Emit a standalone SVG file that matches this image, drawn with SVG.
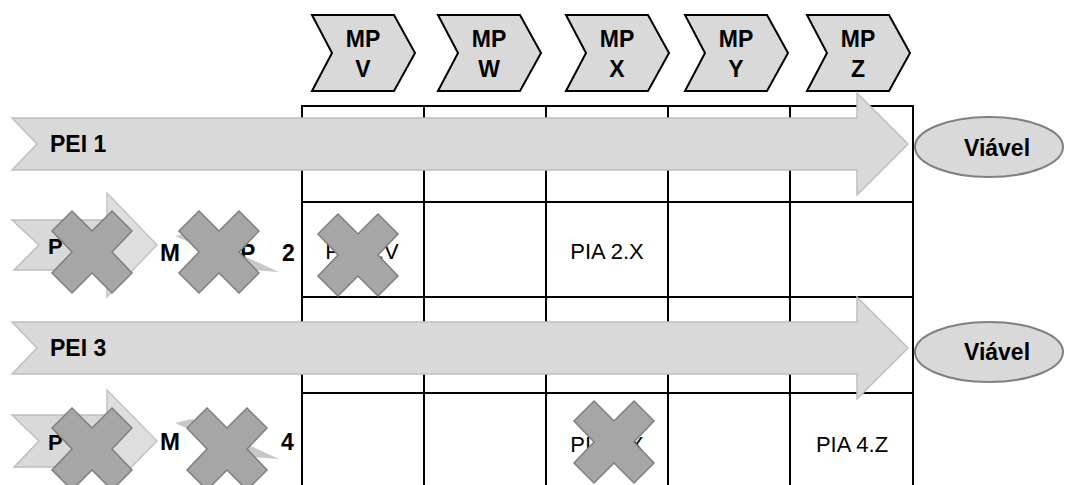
<svg xmlns="http://www.w3.org/2000/svg" xmlns:xlink="http://www.w3.org/1999/xlink" width="1066" height="485" viewBox="0 0 1066 485">
  <style>
    .bg { fill: #ffffff; }
    .grid line { stroke: #000000; stroke-width: 2; }
    .chev { fill: #d9d9d9; stroke: #000000; stroke-width: 2; stroke-linejoin: miter; }
    .blk { fill: #d9d9d9; stroke: #bfbfbf; stroke-width: 1.5; }
    .head { fill: #dedede; stroke: #c4c4c4; stroke-width: 1.5; }
    .shard { fill: #c8c8c8; stroke: none; }
    .ell { fill: #d9d9d9; stroke: #808080; stroke-width: 2; }
    .xmark { fill: #a6a6a6; stroke: #7f7f7f; stroke-width: 1.5; stroke-linejoin: miter; }
    .b { font-family: "Liberation Sans", Arial, sans-serif; font-weight: bold; font-size: 23px; fill: #000000; }
    .r { font-family: "Liberation Sans", Arial, sans-serif; font-size: 22px; fill: #000000; }
    .mid { text-anchor: middle; }
  </style>
  <defs>
    <path id="chevShape" d="M0,0 L82,0 L103,38 L82,76 L0,76 L20,38 Z"/>
    <path id="xShape" d="M-40,-21 L-20,-41 L0,-21 L20,-41 L40,-21 L20,0 L40,21 L20,41 L0,21 L-20,41 L-40,21 L-20,0 Z"/>
  </defs>
  <rect class="bg" x="0" y="0" width="1066" height="485"/>

  <g id="grid" class="grid">
    <line x1="302" y1="106" x2="302" y2="490"/>
    <line x1="424" y1="106" x2="424" y2="490"/>
    <line x1="546" y1="106" x2="546" y2="490"/>
    <line x1="668" y1="106" x2="668" y2="490"/>
    <line x1="790" y1="106" x2="790" y2="490"/>
    <line x1="913" y1="106" x2="913" y2="490"/>
    <line x1="301" y1="106" x2="914" y2="106"/>
    <line x1="301" y1="202" x2="914" y2="202"/>
    <line x1="301" y1="297" x2="914" y2="297"/>
    <line x1="301" y1="393" x2="914" y2="393"/>
  </g>

  <g id="cells">
    <text class="r mid" x="362" y="259">PIA 2.V</text>
    <text class="r mid" x="607" y="259">PIA 2.X</text>
    <text class="r mid" x="607" y="452">PIA 4.X</text>
    <text class="r mid" x="852" y="452">PIA 4.Z</text>
  </g>

  <g id="mp-v"><use xlink:href="#chevShape" href="#chevShape" x="312" y="15" class="chev"/><text class="b mid" x="363" y="47">MP</text><text class="b mid" x="363" y="77">V</text></g>
  <g id="mp-w"><use xlink:href="#chevShape" href="#chevShape" x="438" y="15" class="chev"/><text class="b mid" x="489" y="47">MP</text><text class="b mid" x="489" y="77">W</text></g>
  <g id="mp-x"><use xlink:href="#chevShape" href="#chevShape" x="566" y="15" class="chev"/><text class="b mid" x="617" y="47">MP</text><text class="b mid" x="617" y="77">X</text></g>
  <g id="mp-y"><use xlink:href="#chevShape" href="#chevShape" x="685" y="15" class="chev"/><text class="b mid" x="736" y="47">MP</text><text class="b mid" x="736" y="77">Y</text></g>
  <g id="mp-z"><use xlink:href="#chevShape" href="#chevShape" x="807" y="15" class="chev"/><text class="b mid" x="858" y="47">MP</text><text class="b mid" x="858" y="77">Z</text></g>

  <g id="pei-1">
    <polygon class="blk" points="12,118 857,118 857,93 908,144 857,195 857,170 12,170 37,144"/>
    <text class="b" x="50" y="152">PEI 1</text>
  </g>
  <g id="pei-3">
    <polygon class="blk" points="12,322 857,322 857,297 908,348 857,399 857,374 12,374 37,348"/>
    <text class="b" x="50" y="356">PEI 3</text>
  </g>

  <g id="viavel-1">
    <ellipse class="ell" cx="989" cy="147" rx="74" ry="30"/>
    <text class="b mid" x="997" y="156">Viável</text>
  </g>
  <g id="viavel-3">
    <ellipse class="ell" cx="989" cy="352" rx="74" ry="30"/>
    <text class="b mid" x="997" y="360">Viável</text>
  </g>

  <g id="pei-2">
    <polygon class="blk" points="12,220 107,220 107,270 14,270 39,245"/>
    <polygon class="head" points="107,193 157,245 107,297"/>
    <polygon class="shard" points="175,236 192,232 279,272 252,270"/>
    <text class="b" x="48" y="254" style="font-size:22px">P</text>
    <text class="b" x="160" y="261" style="font-size:24px">M</text>
    <text class="b" x="240" y="261">P</text>
    <text class="b" x="282" y="261">2</text>
  </g>
  <g id="pei-4">
    <polygon class="blk" points="12,415 107,415 107,467 14,467 39,441"/>
    <polygon class="head" points="107,390 157,441 107,492"/>
    <polygon class="shard" points="175,423 192,419 279,459 252,457"/>
    <text class="b" x="48" y="450" style="font-size:22px">P</text>
    <text class="b" x="160" y="450" style="font-size:24px">M</text>
    <text class="b" x="281" y="450">4</text>
  </g>

  <g id="x-marks">
    <use xlink:href="#xShape" href="#xShape" class="xmark" transform="translate(92,252)"/>
    <use xlink:href="#xShape" href="#xShape" class="xmark" transform="translate(219,252)"/>
    <use xlink:href="#xShape" href="#xShape" class="xmark" transform="translate(358,255)"/>
    <use xlink:href="#xShape" href="#xShape" class="xmark" transform="translate(92,449)"/>
    <use xlink:href="#xShape" href="#xShape" class="xmark" transform="translate(227,449)"/>
    <use xlink:href="#xShape" href="#xShape" class="xmark" transform="translate(614,442)"/>
  </g>

  <g id="connectors"/>
</svg>
